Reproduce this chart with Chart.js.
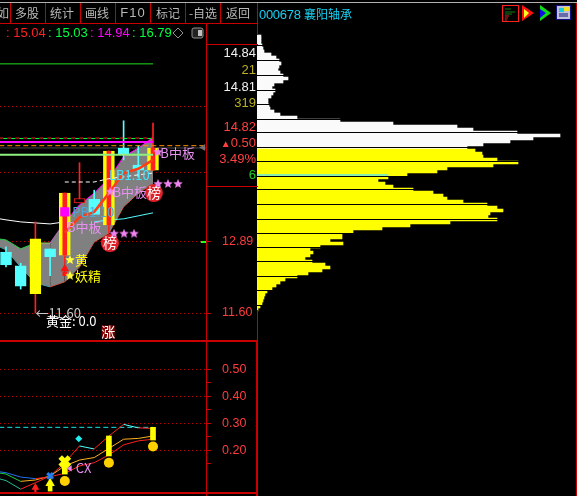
<!DOCTYPE html>
<html lang="zh">
<head>
<meta charset="utf-8">
<title>000678 襄阳轴承</title>
<script src="https://cdn.jsdelivr.net/npm/chart.js@4"></script>
<style>
  html, body { margin: 0; background: #000; overflow: hidden; }
  #wrap { position: relative; width: 577px; height: 496px; background: #000; overflow: hidden;
    font: 13px "Liberation Sans", "Noto Sans CJK SC", sans-serif; }
  canvas { position: absolute; }
  .ln { position: absolute; background: #c80000; z-index: 3; }
  .t { position: absolute; white-space: nowrap; line-height: 14px; z-index: 4; }
  .r { text-align: right; right: 321px; }
  .cjk { font: 12px "Noto Sans CJK SC", sans-serif; line-height: 14px; color: #b8b8b8; top: 6px; transform: translateX(-50%); }
</style>
</head>
<body>
<div id="wrap">
  <canvas id="mainChart" width="258" height="317" style="left:0;top:23px"></canvas>
  <canvas id="subChart" width="258" height="150" style="left:0;top:342px"></canvas>
  <canvas id="profileChart" width="320" height="496" style="left:257px;top:0"></canvas>

  <!-- frame -->
  <div class="ln" style="left:0;top:2px;width:577px;height:1px;background:#b0b0b0"></div>
  <div class="ln" style="left:0;top:23px;width:258px;height:1px"></div>
  <div class="ln" style="left:206px;top:44px;width:52px;height:1px"></div>
  <div class="ln" style="left:206px;top:186px;width:52px;height:1px"></div>
  <div class="ln" style="left:0;top:340px;width:258px;height:2px"></div>
  <div class="ln" style="left:0;top:492px;width:258px;height:2px"></div>
  <div class="ln" style="left:206px;top:23px;width:1px;height:473px"></div>
  <div class="ln" style="left:257px;top:3px;width:1px;height:32px"></div>
  <div class="ln" style="left:257px;top:310px;width:1px;height:30px"></div>
  <div class="ln" style="left:256px;top:340px;width:2px;height:156px"></div>
  <div class="ln" style="left:576px;top:3px;width:1px;height:493px"></div>

  <!-- toolbar -->
  <div class="ln" style="left:10px;top:3px;width:1px;height:20px"></div>
  <div class="ln" style="left:45px;top:3px;width:1px;height:20px"></div>
  <div class="ln" style="left:80px;top:3px;width:1px;height:20px"></div>
  <div class="ln" style="left:115px;top:3px;width:1px;height:20px"></div>
  <div class="ln" style="left:150px;top:3px;width:1px;height:20px"></div>
  <div class="ln" style="left:185px;top:3px;width:1px;height:20px"></div>
  <div class="ln" style="left:220px;top:3px;width:1px;height:20px"></div>
  <span class="t cjk" style="left:3px">如</span>
  <span class="t cjk" style="left:27px">多股</span>
  <span class="t cjk" style="left:62px">统计</span>
  <span class="t cjk" style="left:97px">画线</span>
  <span class="t cjk" style="left:133px;font-family:'Liberation Sans';font-size:13px;letter-spacing:1px">F10</span>
  <span class="t cjk" style="left:168px">标记</span>
  <span class="t cjk" style="left:203px">-自选</span>
  <span class="t cjk" style="left:238px">返回</span>

  <!-- readings above the price pane -->
  <span class="t" style="left:6px;top:26px;color:#ff2020">:&nbsp;15.04</span>
  <span class="t" style="left:48px;top:26px;color:#00ff40">:&nbsp;15.03</span>
  <span class="t" style="left:90px;top:26px;color:#ff00ff">:&nbsp;14.94</span>
  <span class="t" style="left:132px;top:26px;color:#00ff40">:&nbsp;16.79</span>
  <svg style="position:absolute;left:172px;top:27px;z-index:4" width="34" height="12">
    <polygon points="6,1 11,6 6,11 1,6" fill="none" stroke="#909090"/>
    <rect x="20" y="1" width="11" height="10" rx="2" fill="#222" stroke="#909090"/>
    <rect x="26" y="3" width="4" height="6" fill="#c0c0c0"/>
  </svg>

  <!-- quote panel -->
  <span class="t r" style="top:46px;color:#f0f0f0">14.84</span>
  <span class="t r" style="top:63px;color:#b8b020">21</span>
  <span class="t r" style="top:80px;color:#f0f0f0">14.81</span>
  <span class="t r" style="top:96px;color:#b8b020">319</span>
  <span class="t r" style="top:120px;color:#ff4040">14.82</span>
  <span class="t r" style="top:136px;color:#ff4040"><span style="font-size:10px">▲</span>0.50</span>
  <span class="t r" style="top:152px;color:#ff4040">3.49%</span>
  <span class="t r" style="top:168px;color:#20d020">6</span>

  <!-- title and icons -->
  <span class="t" style="left:259px;top:5px;color:#18d0f0;letter-spacing:-0.3px">000678 <span style="font:12px 'Noto Sans CJK SC';letter-spacing:0">襄阳轴承</span></span>
  <svg style="position:absolute;left:500px;top:3px;z-index:4" width="76" height="20">
    <rect x="2.5" y="2.5" width="16" height="16" fill="none" stroke="#ff2020"/>
    <path d="M5 6h6M5 9h10M5 11h7" stroke="#108010" fill="none"/>
    <path d="M5 13h4M5 15h3M5 17h2" stroke="#e02020" fill="none"/>
    <polygon points="22,2 34,10 22,18" fill="#ff1010"/>
    <polygon points="24,6 29,10 24,15" fill="#ffff20"/>
    <polygon points="40,2 51,10 40,18" fill="#10e010"/>
    <polygon points="40,6 46,10 40,15" fill="#1010e0"/>
    <rect x="56.5" y="2.5" width="14" height="14" fill="#c0c0d8" stroke="#101080"/>
    <rect x="59" y="5" width="5" height="4" fill="#10d0e0"/>
    <rect x="64" y="4" width="5" height="4" fill="#f0e020"/>
    <path d="M59 11h9M59 13h9" stroke="#101080"/>
  </svg>
</div>

<script>
// slots are bar positions, one per trading day, -1 runs off the left edge
const candleSlots = [0, 1, 2, 3, 4, 5, 6, 7, 8, 9, 10];
const lineSlots = [-1, 0, 1, 2, 3, 4, 5, 6, 7, 8, 9, 10];

// price pane
const bodyTop = [12.70, 12.44, 12.95, 12.76, 13.86, 13.75, 13.73, 14.75, 14.82, 14.45, 14.82];
const bodyBottom = [12.46, 12.07, 11.94, 12.61, 12.64, 13.66, 13.43, 13.22, 14.69, 14.34, 14.34];
const dayHigh = [12.80, 12.49, 13.28, 12.76, 13.86, 14.50, 13.92, 14.75, 15.43, 14.87, 15.38];
const dayLow = [12.42, 12.02, 11.60, 12.26, 12.49, 13.66, 13.43, 13.06, 14.56, 14.19, 14.34];
const stripedDays = [4, 7, 10];

const bandUpper = [12.97, 12.93, 12.76, 12.87, 12.87, 13.28, 13.62, 13.86, 14.16, 14.63, 14.82, 15.05];
const bandLower = [12.87, 12.74, 12.42, 12.13, 12.06, 12.15, 12.42, 12.89, 13.06, 13.58, 13.86, 14.05];
const slowLine = [13.37, 13.32, 13.28, 13.26, 13.24, 13.28, 13.28, 13.28, 13.32, 13.34, 13.40, 13.46];
const fastSlots = [4, 5, 6, 7, 8, 9, 10];
const fastLine = [13.07, 13.37, 13.48, 13.86, 14.28, 14.37, 14.56];
const dashSlots = [4, 6, 7, 10];
const dashLine = [14.09, 14.09, 14.16, 14.28];
const mainTicks = [15.75, 14.30, 12.89, 11.60];
const mainLabelled = [12.89, 11.60];

const starSlotsPink = [7.35, 8.03, 8.71, 10.34, 11.02, 11.7, 7.1, 10.34];
const starPricesPink = [13.05, 13.05, 13.05, 14.05, 14.05, 14.05, 13.89, 14.73];
const starSlotsGold = [4.35, 4.35];
const starPricesGold = [12.55, 12.26];

const mainNoteSlots = [4.15, 7.25, 10.5, 4.5, 7, 4.7, 4.7, 2, 2.72, 7.07, 10.06, 6.95];
const mainNotePrices = [13.18, 13.885, 14.71, 13.48, 14.24, 12.55, 12.26, 11.60, 11.47, 12.87, 13.86, 11.28];
const mainNoteTexts = ['B中板', 'B中板', 'B中板', 'PB1.10', 'LB1.10', '黄', '妖精', '←11.60', '黄金: 0.0', '榜', '榜', '涨'];
const mainNoteColors = ['#e890f0', '#e890f0', '#e890f0', '#50a8d8', '#40e8ff', '#ffff00', '#ffff00', '#c8c8c8', '#ffffff', '#ffffff', '#ffffff', '#ffffff'];

// indicator pane
const lineA = [0.102, 0.088, 0.056, 0.080, 0.105, 0.154, 0.216, 0.205, 0.253, 0.296, 0.283, 0.281];
const lineB = [0.121, 0.112, 0.085, 0.090, 0.105, 0.142, 0.164, 0.173, 0.207, 0.241, 0.244, 0.253];
const lineC = [0.125, 0.117, 0.101, 0.095, 0.102, 0.115, 0.142, 0.154, 0.183, 0.220, 0.235, 0.241];
const levelLine = 0.285;
const subTicks = [0.50, 0.45, 0.40, 0.35, 0.30, 0.25, 0.20, 0.15];
const subLabelled = [0.50, 0.40, 0.30, 0.20];
const signalSlots = [4, 7, 10];
const signalTop = [0.164, 0.253, 0.285];
const signalBottom = [0.112, 0.179, 0.238];
const coinValues = [0.086, 0.154, 0.214];
const tipSlots = [7, 10];
const tipValues = [0.232, 0.263];

// chip profile, one row every 3px from top to bottom
const chipRows = [
  4, 4, 4, 5, 6, 7, 14, 19, 22, 24, 22, 21, 23, 26, 31, 26, 17, 15, 18, 16,
  14, 11, 11, 12, 13, 17, 23, 40, 83, 136, 200, 216, 260, 303, 276, 253, 226, 210,
  218, 225, 226, 240, 261, 236, 190, 180, 150, 131, 121, 128, 136, 156, 176, 186, 190,
  206, 230, 240, 246, 233, 231, 240, 193, 153, 125, 96, 85, 85, 73, 86, 63, 53, 56,
  53, 48, 55, 68, 73, 65, 51, 40, 28, 23, 19, 15, 10, 8, 7, 6, 5, 3, 1
];
const whiteRows = 38;
const chipGridRows = [5.5, 10.5, 15.5, 20.2, 25.2, 29.8, 34.5, 39.2, 44.2, 48.8, 53.5, 58.5, 63.2, 67.8, 72.8, 77.5, 82.2, 87.2];

const CYAN = '#55ffff', YELLOW = '#ffff00', RED = '#ff2020', VIOLET = '#ee82ee', GOLD = '#ffd000';
const AXIS_RED = '#c80000', LABEL_RED = '#ff3c3c';

const pts = (xs, ys) => ys.map((y, i) => ({ x: xs[i], y: y }));
const segColors = list => ({ borderColor: ctx => list[ctx.p0DataIndex] });

const line = (xs, ys, color, width, order, extra) => Object.assign({
  type: 'line', data: pts(xs, ys), borderColor: color, borderWidth: width,
  pointRadius: 0, tension: 0, fill: false, order: order
}, extra);

const level = (value, from, to, color, width, order, extra) =>
  line([from, to], [value, value], color, width, order, extra);

const marks = (xs, ys, style, radius, color, order, extra) => Object.assign({
  type: 'line', data: pts(xs, ys), showLine: false, pointStyle: style, pointRadius: radius,
  pointBackgroundColor: color, pointBorderColor: color, pointBorderWidth: 0, order: order
}, extra);

const bars = (xs, tops, bottoms, thickness, color, order, extra) => Object.assign({
  type: 'bar', data: xs.map((x, i) => ({ x: x, y: [bottoms[i], tops[i]] })),
  barThickness: thickness, backgroundColor: color, grouped: false, order: order
}, extra);

const starIcon = (color, r) => {
  const c = document.createElement('canvas');
  c.width = c.height = r * 2;
  const g = c.getContext('2d');
  g.fillStyle = color;
  g.beginPath();
  for (let i = 0; i < 10; i++) {
    const rr = i % 2 ? r * 0.45 : r;
    const a = -Math.PI / 2 + i * Math.PI / 5;
    g.lineTo(r + rr * Math.cos(a), r + rr * Math.sin(a));
  }
  g.closePath();
  g.fill();
  return c;
};

const notes = (xs, ys, texts, colors) => ({
  id: 'notes',
  afterDatasetsDraw(chart) {
    const g = chart.ctx;
    g.save();
    g.textBaseline = 'middle';
    texts.forEach((t, i) => {
      const badge = t === '榜' || t === '涨';
      g.font = (badge ? '14px' : '13px') + ' "Noto Sans CJK SC"';
      g.textAlign = badge ? 'center' : 'left';
      g.fillStyle = colors[i];
      g.fillText(t, chart.scales.x.getPixelForValue(xs[i]), chart.scales.y.getPixelForValue(ys[i]));
    });
    g.restore();
  }
});

const slotAxis = {
  type: 'linear', display: false, min: -0.408, max: 13.605,
  grid: { display: false }, offset: false
};

const priceAxis = (ticks, labelled, extra) => Object.assign({
  position: 'right',
  afterFit: s => { s.width = 52; s.paddingTop = 0; s.paddingBottom = 0; },
  afterBuildTicks: s => { s.ticks = ticks.map(v => ({ value: v })); },
  border: { display: false, dash: [1, 3] },
  grid: {
    color: ctx => (ctx.tick && ticks.includes(ctx.tick.value) ? '#b80000' : 'transparent'),
    tickColor: ctx => (ctx.tick && labelled.includes(ctx.tick.value) ? AXIS_RED : 'transparent'),
    tickLength: 5
  },
  ticks: {
    autoSkip: false, padding: 11, color: LABEL_RED, maxRotation: 0,
    font: { family: 'Liberation Sans', size: 12.5 },
    callback: v => (labelled.includes(v) ? v.toFixed(2) : '')
  }
}, extra);

const baseOptions = {
  responsive: false, animation: false, devicePixelRatio: 1,
  layout: { padding: 0, autoPadding: false },
  plugins: { legend: { display: false }, tooltip: { enabled: false } }
};

// price pane
const bodyColors = [CYAN, CYAN, YELLOW, CYAN, YELLOW, '#000000', CYAN, YELLOW, CYAN, CYAN, YELLOW];
const wickColors = [CYAN, CYAN, RED, CYAN, RED, RED, CYAN, RED, CYAN, CYAN, RED];

new Chart(document.getElementById('mainChart'), {
  data: {
    datasets: [
      level(14.82, -1, 13.7, '#484848', 1, 40),
      line(lineSlots, bandUpper, '#808080', 1, 30, {
        fill: { target: '+1', above: '#808080', below: '#808080' },
        segment: segColors(['#20d040', '#20d040', '#20d040', '#a0d040', '#c060c0', '#ff00ff', '#ff00ff', '#ff00ff', '#ff00ff', '#ff00ff', '#ff00ff'])
      }),
      line(lineSlots, bandLower, '#808080', 1, 30, {
        segment: segColors(['#20b0b0', '#20b0b0', '#20b0b0', '#20c0e0', '#ff4020', '#ff4020', '#ff4020', '#ff4020', '#ff4020', '#ff4020', '#ff4020'])
      }),
      line(lineSlots, slowLine, '#ffffff', 1, 25, {
        segment: segColors(['#fff', '#fff', '#fff', '#fff', '#fff', 'transparent', 'transparent', CYAN, CYAN, CYAN, CYAN])
      }),
      bars(candleSlots, dayHigh, dayLow, 1, wickColors, 20),
      bars(candleSlots, bodyTop, bodyBottom, 11, bodyColors, 15, {
        borderWidth: 1, borderSkipped: false,
        borderColor: [CYAN, CYAN, YELLOW, CYAN, YELLOW, RED, CYAN, YELLOW, CYAN, CYAN, YELLOW]
      }),
      bars(stripedDays.map(i => candleSlots[i]), stripedDays.map(i => bodyTop[i]), stripedDays.map(i => bodyBottom[i]), 4, RED, 14),
      line(dashSlots, dashLine, '#ffffff', 1, 8, { borderDash: [4, 3] }),
      level(16.79, -1, 10, '#20e020', 1, 6),
      level(15.04, -1, 10, '#ff2020', 1, 6, { borderDash: [4, 4] }),
      level(15.03, -1, 10, '#00ff40', 1, 6, { borderDash: [4, 4], borderDashOffset: 4 }),
      level(14.95, -1, 10, '#ff00ff', 2, 6),
      level(14.87, -1, 13.7, '#ff9000', 1, 6, { borderDash: [5, 3] }),
      level(14.67, -1, 10, '#90f080', 2, 6),
      level(12.89, 13.25, 13.7, '#20ff20', 2, 6),
      line(fastSlots, fastLine, '#ff3c14', 2.5, 5),
      marks([13.42], [14.83], 'triangle', 4, '#707070', 4, { pointRotation: -90 }),
      marks([4], [13.48], 'rect', 6.5, '#ff00ff', 3),
      bars([4], [12.33], [12.26], 4, '#ff1010', 3),
      marks([4], [12.39], 'triangle', 5, '#ff1010', 3),
      marks([7.07, 10.06], [12.87, 13.86], 'circle', 9, '#e02028', 3),
      marks([6.95], [11.28], 'rect', 9.2, '#800000', 3),
      marks(starSlotsPink, starPricesPink, starIcon(VIOLET, 5), 5, VIOLET, 2),
      marks(starSlotsGold, starPricesGold, starIcon('#ffff40', 5), 5, '#ffff40', 2)
    ]
  },
  options: Object.assign({}, baseOptions, {
    scales: {
      x: slotAxis,
      y: priceAxis(mainTicks, mainLabelled, { type: 'logarithmic', min: 11.145, max: 17.84, bounds: 'data' })
    }
  }),
  plugins: [notes(mainNoteSlots, mainNotePrices, mainNoteTexts, mainNoteColors)]
});

// indicator pane
new Chart(document.getElementById('subChart'), {
  data: {
    datasets: [
      level(levelLine, -1, 10, '#20e0e0', 1, 20, { borderDash: [5, 3] }),
      line(lineSlots, lineA, RED, 1, 18, {
        segment: segColors(['#20c090', '#20c090', RED, RED, RED, RED, CYAN, RED, RED, CYAN, RED])
      }),
      line(lineSlots, lineB, '#ffb020', 1, 17, {
        segment: segColors(['#20d040', '#20d040', '#ffb020', '#ffb020', '#ffb020', '#ffb020', '#ffb020', '#ffb020', '#ffb020', '#ffb020', '#ffb020'])
      }),
      line(lineSlots, lineC, RED, 1, 16, {
        segment: segColors(['#2070f0', '#2070f0', '#2070f0', RED, RED, RED, RED, RED, RED, RED, RED])
      }),
      bars([2], [0.062], [0.043], 1.5, RED, 12),
      marks([2], [0.062], 'triangle', 4.5, RED, 11),
      bars([3], [0.078], [0.049], 4, YELLOW, 11),
      marks([3], [0.078], 'triangle', 5.5, YELLOW, 11),
      marks([3], [0.105], 'crossRot', 4, '#2080f0', 10, { pointBorderWidth: 3 }),
      marks(tipSlots, tipValues, 'triangle', 3.5, RED, 12),
      bars(signalSlots, signalTop, signalBottom, 5, YELLOW, 9),
      marks(signalSlots, coinValues, 'circle', 5, GOLD, 9),
      marks([4], [0.158], 'crossRot', 6.5, YELLOW, 8, { pointBorderWidth: 5 }),
      marks([4.95], [0.243], 'rectRot', 3.5, '#20f0f0', 8),
      marks([4.35], [0.133], 'triangle', 3.5, VIOLET, 8, { pointRotation: -90 })
    ]
  },
  options: Object.assign({}, baseOptions, {
    scales: {
      x: slotAxis,
      y: priceAxis(subTicks, subLabelled, {
        type: 'linear', min: 0.0456, max: 0.601, bounds: 'data',
        grid: {
          color: ctx => (ctx.tick && subLabelled.includes(ctx.tick.value) ? '#b80000' : 'transparent'),
          tickColor: AXIS_RED, tickLength: 5
        }
      })
    }
  }),
  plugins: [notes([4.75], [0.133], ['CX'], ['#e890f0'])]
});

// chip profile
new Chart(document.getElementById('profileChart'), {
  type: 'bar',
  data: {
    datasets: [
      {
        data: chipRows.map((v, i) => ({ x: v, y: i })),
        barThickness: 3, grouped: false, order: 2,
        backgroundColor: chipRows.map((v, i) => (i < whiteRows ? '#fafafa' : YELLOW))
      },
      {
        data: [{ x: 131, y: 46.17 }],
        barThickness: 1, grouped: false, order: 1, backgroundColor: '#60e8e8'
      }
    ]
  },
  options: Object.assign({}, baseOptions, {
    indexAxis: 'y',
    scales: {
      x: { type: 'linear', display: false, min: 0, max: 320, grid: { display: false } },
      y: {
        type: 'linear', reverse: true, min: -12.167, max: 153.167, bounds: 'data', offset: false,
        afterFit: s => { s.width = 0; s.paddingTop = 0; s.paddingBottom = 0; },
        afterBuildTicks: s => { s.ticks = chipGridRows.map(v => ({ value: v })); },
        border: { display: false },
        grid: { color: '#000000', z: 1, drawTicks: false },
        ticks: { display: false }
      }
    }
  })
});
</script>
</body>
</html>
